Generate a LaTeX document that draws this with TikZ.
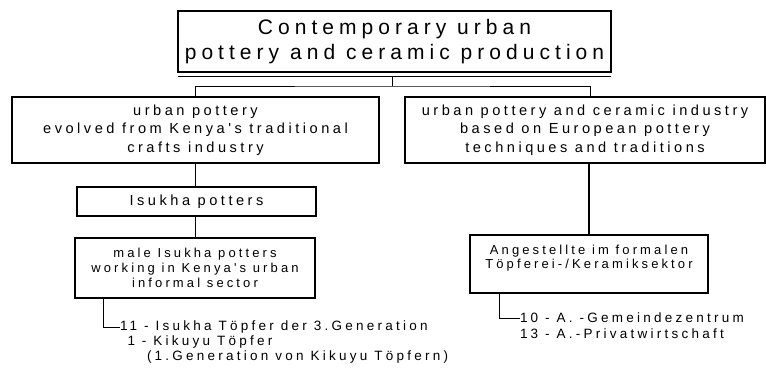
\documentclass[tikz,border=0pt]{standalone}
\usepackage{fontspec}
\setmainfont{Liberation Sans}
\newfontfamily\spaced[LetterSpace=24]{Liberation Sans}
\usetikzlibrary{calc}

\begin{document}
\begin{tikzpicture}[x=1pt,y=-1pt,
  box/.style={draw, line width=2pt, inner sep=0pt, outer sep=0pt, align=center},
  conn/.style={line width=1pt},
  heavyconn/.style={line width=2pt},
  big/.style={font={\spaced\fontsize{21}{25}\selectfont}},
  mid/.style={font={\spaced\fontsize{14.6}{18.5}\selectfont}},
  small/.style={font={\spaced\fontsize{13}{15}\selectfont}},
  item/.style={font={\spaced\fontsize{13.5}{15}\selectfont}, inner sep=0pt, outer sep=0pt, anchor=west}
]
\useasboundingbox (0,0) rectangle (766,372);
\fill[white] (0,0) rectangle (766,372);

% title box with its doubled lower rule
\node[box, big, minimum width=433, minimum height=61] (title) at (394.5,41.5)
  {Contemporary urban\\pottery and ceramic production};
\coordinate (tb) at ($(title.south)+(0,4)$);
\draw[conn] (title.south west |- tb) -- (title.south east |- tb);

% two branches
\node[box, mid, minimum width=367, minimum height=66] (left) at (195.5,130)
  {urban pottery\\evolved from Kenya's traditional\\crafts industry};
\node[box, mid, minimum width=360, minimum height=66] (right) at (585,130)
  {urban pottery and ceramic industry\\based on European pottery\\techniques and traditions};

\coordinate (hub) at (392,86);
\coordinate (rc) at (590,0);
\draw[conn] (tb -| hub) -- (hub);
\draw[conn] (left.north) |- (hub) -| (right.north -| rc);

% left column
\node[box, mid, minimum width=239, minimum height=29] (isukha) at (196.5,201.5)
  {Isukha potters};
\node[box, small, minimum width=240, minimum height=60] (male) at (195,268)
  {male Isukha potters\\working in Kenya's urban\\informal sector};
\draw[conn] (left.south) -- (left.south |- isukha.north);
\draw[conn] (male.north |- isukha.south) -- (male.north);

\node[item] (l1) at (120,327) {11 - Isukha Töpfer der 3.Generation};
\node[item] (l2) at (120,342) {\phantom{1}1 - Kikuyu Töpfer};
\node[item] (l3) at (147,357) {(1.Generation von Kikuyu Töpfern)};
\coordinate (lb) at (103,0);
\draw[conn] (male.south -| lb) |- (l1.west);

% right column
\node[box, font={\spaced\fontsize{13}{14}\selectfont}, minimum width=238, minimum height=58] (ang) at (589,264)
  {Angestellte im formalen\\Töpferei-/Keramiksektor\\\mbox{}};
\draw[heavyconn] (right.south -| ang.north) -- (ang.north);

\node[item] (r1) at (520,318) {10 - A. -Gemeindezentrum};
\node[item] (r2) at (520,334) {13 - A.-Privatwirtschaft};
\coordinate (rb) at (499,0);
\draw[conn] (ang.south -| rb) |- (r1.west);
\end{tikzpicture}
\end{document}
